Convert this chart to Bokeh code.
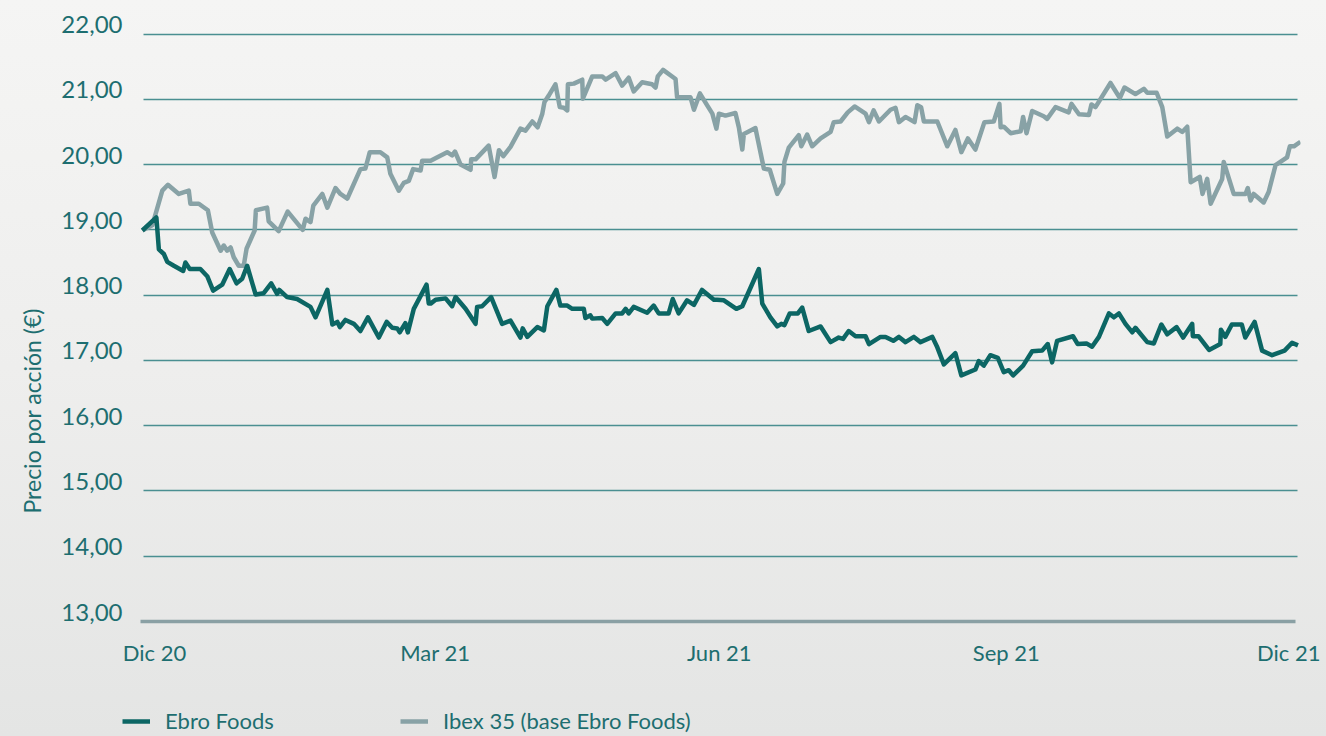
from bokeh.plotting import figure
from bokeh.models import (Range1d, LinearAxis, FixedTicker, CustomJSTickFormatter,
                          Legend, Title, Grid)
from bokeh.embed import file_html
from bokeh.resources import INLINE

# ---------------- data (days since 31 Dec 2020, price in EUR) ----------------
ebro_day = [-3.9, 0.6, 1.4, 3.0, 4.1, 6.2, 9.2, 9.9, 11.3, 14.7,
            16.9, 18.8, 21.7, 24.1, 26.3, 28.1, 29.7, 32.4, 35.0, 37.4,
            39.3, 40.0, 42.5, 45.7, 50.0, 51.6, 55.4, 57.0, 58.6, 59.4,
            61.2, 63.9, 66.0, 68.4, 71.9, 74.4, 76.2, 77.8, 78.6, 80.4,
            81.2, 83.1, 87.2, 87.9, 88.5, 90.1, 93.3, 95.4, 96.5, 99.7,
            102.9, 103.4, 105.0, 107.9, 111.4, 114.1, 117.3, 118.0, 119.5, 122.7,
            124.8, 125.9, 128.8, 130.1, 132.3, 133.9, 137.6, 138.1, 139.7, 140.3,
            143.5, 145.1, 147.8, 149.9, 151.0, 152.0, 153.6, 157.9, 160.0, 161.6,
            164.8, 166.1, 168.0, 170.7, 172.9, 175.5, 179.3, 180.3, 182.5, 186.5,
            188.4, 193.7, 194.8, 197.4, 199.6, 200.9, 201.9, 203.6, 206.2, 207.6,
            209.7, 213.5, 216.7, 219.3, 220.7, 222.5, 224.7, 227.9, 229.0, 232.7,
            234.3, 236.8, 238.6, 240.7, 243.4, 245.5, 249.3, 250.9, 253.0, 256.7,
            258.6, 263.1, 264.2, 265.8, 267.9, 270.3, 272.2, 273.8, 275.2, 278.4,
            281.3, 284.5, 286.3, 287.7, 289.3, 294.4, 295.9, 298.7, 300.5, 302.7,
            305.9, 307.5, 309.1, 311.2, 313.4, 314.4, 318.2, 320.3, 322.7, 324.6,
            327.6, 329.7, 332.6, 332.8, 334.6, 338.0, 341.6, 341.8, 343.2, 345.3,
            348.5, 349.6, 352.6, 355.0, 358.2, 362.2, 364.6, 366.5]
ebro_val = [18.99, 19.19, 18.70, 18.63, 18.51, 18.45, 18.37, 18.50, 18.40, 18.40,
            18.29, 18.07, 18.16, 18.40, 18.18, 18.25, 18.45, 18.01, 18.03, 18.18,
            18.02, 18.08, 17.97, 17.94, 17.82, 17.66, 18.08, 17.55, 17.59, 17.51,
            17.62, 17.56, 17.45, 17.66, 17.35, 17.59, 17.50, 17.49, 17.43, 17.57,
            17.43, 17.79, 18.16, 17.87, 17.87, 17.93, 17.95, 17.83, 17.97, 17.79,
            17.56, 17.82, 17.83, 17.97, 17.56, 17.61, 17.35, 17.49, 17.36, 17.51,
            17.46, 17.83, 18.08, 17.84, 17.84, 17.79, 17.79, 17.65, 17.69, 17.64,
            17.65, 17.56, 17.72, 17.72, 17.79, 17.72, 17.82, 17.73, 17.84, 17.72,
            17.72, 17.94, 17.72, 17.92, 17.85, 18.08, 17.93, 17.93, 17.92, 17.79,
            17.83, 18.40, 17.87, 17.66, 17.52, 17.56, 17.54, 17.72, 17.72, 17.81,
            17.45, 17.52, 17.28, 17.35, 17.33, 17.45, 17.37, 17.37, 17.25, 17.36,
            17.36, 17.30, 17.36, 17.28, 17.36, 17.28, 17.36, 17.20, 16.94, 17.11,
            16.77, 16.86, 16.99, 16.92, 17.08, 17.04, 16.82, 16.85, 16.77, 16.92,
            17.14, 17.15, 17.25, 16.97, 17.30, 17.37, 17.25, 17.26, 17.21, 17.36,
            17.72, 17.66, 17.72, 17.56, 17.43, 17.50, 17.28, 17.26, 17.55, 17.40,
            17.51, 17.35, 17.56, 17.37, 17.37, 17.16, 17.25, 17.47, 17.36, 17.55,
            17.55, 17.35, 17.59, 17.15, 17.08, 17.15, 17.27, 17.23]

ibex_day = [-3.9, -0.7, 2.5, 4.3, 7.8, 11.0, 11.5, 14.2, 17.1, 18.5,
            21.2, 22.2, 23.3, 24.4, 25.4, 27.0, 28.6, 29.5, 32.1, 32.5,
            36.1, 36.6, 39.8, 42.7, 47.5, 48.4, 50.0, 50.9, 53.8, 55.4,
            58.0, 59.6, 61.8, 66.0, 67.6, 69.0, 72.4, 74.6, 75.6, 78.3,
            79.9, 81.5, 82.9, 85.3, 85.8, 88.5, 93.8, 95.4, 96.3, 98.1,
            101.3, 101.5, 102.9, 107.1, 109.0, 110.4, 111.8, 114.1, 117.3, 118.9,
            121.1, 122.8, 124.3, 125.0, 126.4, 128.5, 129.9, 131.2, 132.3, 132.5,
            134.4, 137.1, 137.3, 140.3, 143.5, 144.6, 147.8, 149.9, 152.0, 153.6,
            156.3, 159.5, 160.6, 161.3, 163.0, 167.0, 167.5, 171.8, 172.9, 174.8,
            177.1, 178.8, 180.1, 180.9, 183.0, 186.2, 187.3, 188.4, 188.9, 192.6,
            195.3, 197.2, 199.6, 201.5, 201.9, 203.3, 206.5, 207.3, 209.2, 210.8,
            213.5, 216.7, 217.7, 219.9, 222.2, 224.4, 227.9, 229.0, 230.5, 232.2,
            235.9, 237.5, 238.6, 240.7, 243.6, 244.5, 245.7, 246.6, 250.9, 254.1,
            256.7, 258.6, 260.7, 263.1, 266.0, 269.0, 270.8, 271.2, 272.2, 274.4,
            277.6, 278.4, 279.5, 281.3, 285.0, 286.1, 288.8, 293.0, 293.9, 296.3,
            299.5, 300.3, 301.6, 306.4, 309.4, 310.9, 314.4, 317.1, 318.2, 321.2,
            323.0, 324.6, 327.8, 329.4, 331.0, 332.1, 335.0, 335.9, 337.4, 338.5,
            342.2, 342.7, 345.9, 349.7, 350.4, 351.3, 352.3, 355.5, 357.1, 359.3,
            363.0, 363.9, 365.2, 367.3]
ibex_val = [18.99, 19.07, 19.60, 19.69, 19.55, 19.60, 19.40, 19.40, 19.30, 18.96,
            18.68, 18.76, 18.68, 18.73, 18.58, 18.45, 18.45, 18.71, 18.99, 19.30,
            19.34, 19.13, 18.98, 19.28, 19.00, 19.17, 19.12, 19.37, 19.55, 19.34,
            19.64, 19.55, 19.48, 19.93, 19.94, 20.19, 20.19, 20.11, 19.86, 19.60,
            19.72, 19.75, 19.93, 19.91, 20.06, 20.06, 20.19, 20.14, 20.20, 20.00,
            19.92, 20.08, 20.08, 20.29, 19.81, 20.22, 20.13, 20.27, 20.55, 20.52,
            20.66, 20.57, 20.78, 20.96, 21.06, 21.23, 20.88, 20.87, 20.83, 21.23,
            21.24, 21.30, 21.01, 21.35, 21.35, 21.30, 21.40, 21.21, 21.33, 21.12,
            21.26, 21.23, 21.18, 21.35, 21.45, 21.31, 21.03, 21.03, 20.84, 21.09,
            20.91, 20.78, 20.55, 20.78, 20.75, 20.79, 20.57, 20.23, 20.47, 20.56,
            19.94, 19.92, 19.55, 19.71, 20.04, 20.26, 20.45, 20.28, 20.46, 20.28,
            20.40, 20.50, 20.65, 20.66, 20.80, 20.89, 20.78, 20.65, 20.83, 20.66,
            20.84, 20.87, 20.65, 20.73, 20.65, 20.91, 20.88, 20.66, 20.66, 20.28,
            20.53, 20.19, 20.40, 20.23, 20.65, 20.66, 20.93, 20.57, 20.58, 20.48,
            20.51, 20.73, 20.48, 20.82, 20.74, 20.70, 20.88, 20.80, 20.93, 20.77,
            20.76, 20.92, 20.88, 21.25, 21.02, 21.18, 21.08, 21.16, 21.10, 21.10,
            20.88, 20.43, 20.55, 20.50, 20.58, 19.73, 19.81, 19.55, 19.78, 19.40,
            19.78, 20.04, 19.55, 19.55, 19.64, 19.45, 19.55, 19.42, 19.58, 19.99,
            20.11, 20.28, 20.28, 20.35]

x_tick_days = [0, 90, 181, 273, 365]
x_tick_labels = ["Dic 20", "Mar 21", "Jun 21", "Sep 21", "Dic 21"]
y_ticks = [13, 14, 15, 16, 17, 18, 19, 20, 21, 22]
series_names = ["Ebro Foods", "Ibex 35 (base Ebro Foods)"]
y_title = "Precio por acción (€)"

# ---------------- style / layout ----------------
FONT = "Lato"
TEXT = "#1d6e70"
EBRO = "#0c6664"
IBEX = "#88a2a6"
GRID = "#4a8f91"
BASE = "#8aa0a4"

PXD = 3.12          # pixels per day
PX0 = 154           # screen x of day 0

def px2day(px):
    return (px - PX0) / PXD

HAS_CB = "cross_bounds" in Grid.properties()
FRAME_L = 118 if HAS_CB else 140      # frame reaches left enough to hold the legend glyph

Y0, Y1 = 11.269, 22.253
p = figure(width=1320, height=736, output_backend="svg", toolbar_location=None,
           x_range=Range1d(px2day(FRAME_L), px2day(1300)), y_range=Range1d(Y0, Y1),
           y_axis_location=None,
           min_border_left=FRAME_L, min_border_right=20, min_border_top=17,
           min_border_bottom=2)
p.outline_line_color = None
p.background_fill_alpha = 0
p.border_fill_alpha = 0

# y tick labels sit with their baseline on the grid line -> slightly shifted range
SH = 0.145
p.extra_y_ranges = {"lbl": Range1d(Y0 - SH, Y1 - SH)}
yax = LinearAxis(y_range_name="lbl", ticker=FixedTicker(ticks=y_ticks),
                 formatter=CustomJSTickFormatter(code="return tick.toFixed(2).replace('.', ',');"))
yax.axis_line_color = None
yax.major_tick_line_color = None
yax.minor_tick_line_color = None
yax.major_tick_in = 0
yax.major_tick_out = 0
yax.major_label_standoff = FRAME_L - 122
yax.major_label_text_font = FONT
yax.major_label_text_font_size = "24px"
yax.major_label_text_color = TEXT
p.add_layout(yax, "left")

p.add_layout(Title(text=y_title, align="left", offset=221, standoff=24,
                   vertical_align="middle",
                   text_font=FONT, text_font_size="23px", text_font_style="normal",
                   text_color=TEXT), "left")

xax = p.xaxis[0]
xax.ticker = FixedTicker(ticks=x_tick_days)
xax.major_label_overrides = dict(zip(x_tick_days, x_tick_labels))
xax.axis_line_color = None
xax.major_tick_line_color = None
xax.minor_tick_line_color = None
xax.major_tick_in = 0
xax.major_tick_out = 0
xax.major_label_standoff = -96
xax.major_label_text_font = FONT
xax.major_label_text_font_size = "22px"
xax.major_label_text_color = TEXT

p.xgrid.visible = False
p.ygrid.visible = False
grid_kw = {"cross_bounds": (px2day(143), px2day(1297))} if HAS_CB else {}
base_kw = {"cross_bounds": (px2day(140), px2day(1295))} if HAS_CB else {}
p.add_layout(Grid(dimension=1, ticker=FixedTicker(ticks=y_ticks[1:]),
                  grid_line_color=GRID, grid_line_width=1.3, **grid_kw))
p.add_layout(Grid(dimension=1, ticker=FixedTicker(ticks=y_ticks[:1]),
                  grid_line_color=BASE, grid_line_width=3.5, **base_kw))

r_ibex = p.line(ibex_day, ibex_val, line_color=IBEX, line_width=4.5, line_join="round")
r_ebro = p.line(ebro_day, ebro_val, line_color=EBRO, line_width=4.5, line_join="round")

legend = Legend(items=[(series_names[0], [r_ebro]), (series_names[1], [r_ibex])],
                orientation="horizontal", location=(max(122 - FRAME_L, 0), 0),
                glyph_width=28, glyph_height=20, label_standoff=15,
                label_width=200, spacing=400 - max(122, FRAME_L) - 243,
                padding=0, margin=0,
                border_line_alpha=0, background_fill_alpha=0,
                label_text_font=FONT, label_text_font_size="22px",
                label_text_color=TEXT)
p.add_layout(legend, "center")

html = file_html(p, INLINE, title="Ebro Foods")
css = ("<style>html{height:100%;background:linear-gradient(to bottom,#f5f5f4 0%,"
       "#eeeeed 50%,#e4e5e4 100%);}body{background:transparent;}</style>")
html = html.replace("<head>", "<head>" + css, 1)
open("out.html", "w").write(html)
